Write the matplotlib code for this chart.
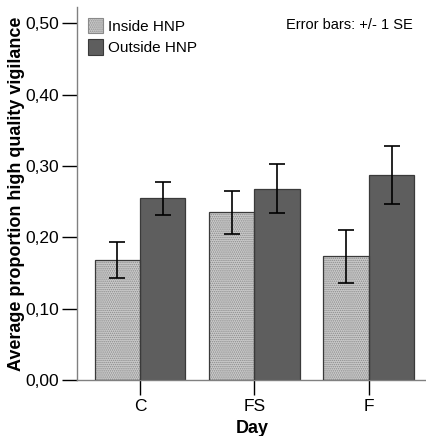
import matplotlib
matplotlib.use("Agg")
import matplotlib.pyplot as plt
import numpy as np
from matplotlib.patches import Patch

plt.rcParams['font.family'] = ['Liberation Sans', 'DejaVu Sans']

days = ["C", "FS", "F"]
series = ["Inside HNP", "Outside HNP"]
inside_mean = [0.168, 0.236, 0.174]
inside_lo = [0.1435, 0.205, 0.136]
inside_hi = [0.193, 0.2655, 0.211]
outside_mean = [0.2557, 0.268, 0.288]
outside_lo = [0.231, 0.234, 0.247]
outside_hi = [0.278, 0.3034, 0.3286]
yticks = [0.0, 0.1, 0.2, 0.3, 0.4, 0.5]
ytick_labels = ["0,00", "0,10", "0,20", "0,30", "0,40", "0,50"]

fig = plt.figure(figsize=(4.27, 4.36), dpi=100)
ax = fig.add_axes([77/427, 56/436, 350/427, 373/436])

x = np.arange(len(days))
w = 0.397
in_face = '#cbcbcb'
dot_col = '#8a8a8a'
out_face = '#5e5e5e'
edge = '#3a3a3a'

plt.rcParams['hatch.linewidth'] = 0.7
# inside bars: hatched stipple
ax.bar(x - w/2, inside_mean, w, facecolor=in_face, edgecolor=dot_col,
       hatch='........', linewidth=0, zorder=2)
ax.bar(x - w/2, inside_mean, w, fill=False, edgecolor=edge, linewidth=0.9, zorder=3)
ax.bar(x + w/2, outside_mean, w, facecolor=out_face, edgecolor=edge, linewidth=0.9, zorder=2)

im = np.array(inside_mean)
om = np.array(outside_mean)
ax.errorbar(x - w/2, im, yerr=[im - np.array(inside_lo), np.array(inside_hi) - im],
            fmt='none', ecolor='black', elinewidth=1.2, capsize=5.5, capthick=1.2, zorder=4)
ax.errorbar(x + w/2, om, yerr=[om - np.array(outside_lo), np.array(outside_hi) - om],
            fmt='none', ecolor='black', elinewidth=1.2, capsize=5.5, capthick=1.2, zorder=4)

ax.set_xlim(-0.55, 2.507)
ax.set_ylim(0, 0.523)
ax.set_yticks(yticks)
ax.set_yticklabels(ytick_labels, fontsize=12.5)
ax.set_xticks(x)
ax.set_xticklabels(days, fontsize=12.5)
ax.tick_params(axis='y', length=11, width=1, color='black', pad=2)
ax.tick_params(axis='x', length=11, width=1, color='black', pad=3)

for s in ['top', 'right']:
    ax.spines[s].set_visible(False)
for s in ['left', 'bottom']:
    ax.spines[s].set_color('#808080')
    ax.spines[s].set_linewidth(1.0)

ax.set_ylabel("Average proportion high quality vigilance", fontsize=13, fontweight='bold')
ax.yaxis.set_label_coords(-0.148, 0.5)
ax.set_xlabel("Day", fontsize=13, fontweight='bold', labelpad=4)

handles = [Patch(facecolor=in_face, edgecolor=dot_col, hatch='........', linewidth=0.8),
           Patch(facecolor=out_face, edgecolor=edge, linewidth=0.8)]
ax.legend(handles, series, loc='upper left', bbox_to_anchor=(0.0, 1.0), frameon=False,
          fontsize=11, handlelength=1.0, handleheight=1.2, handletextpad=0.35,
          labelspacing=0.35, borderaxespad=0.3)

fig.text(413/427, 1 - 25/436, "Error bars: +/- 1 SE", ha='right', va='center', fontsize=10.5)

fig.savefig("out.png", dpi=100)
